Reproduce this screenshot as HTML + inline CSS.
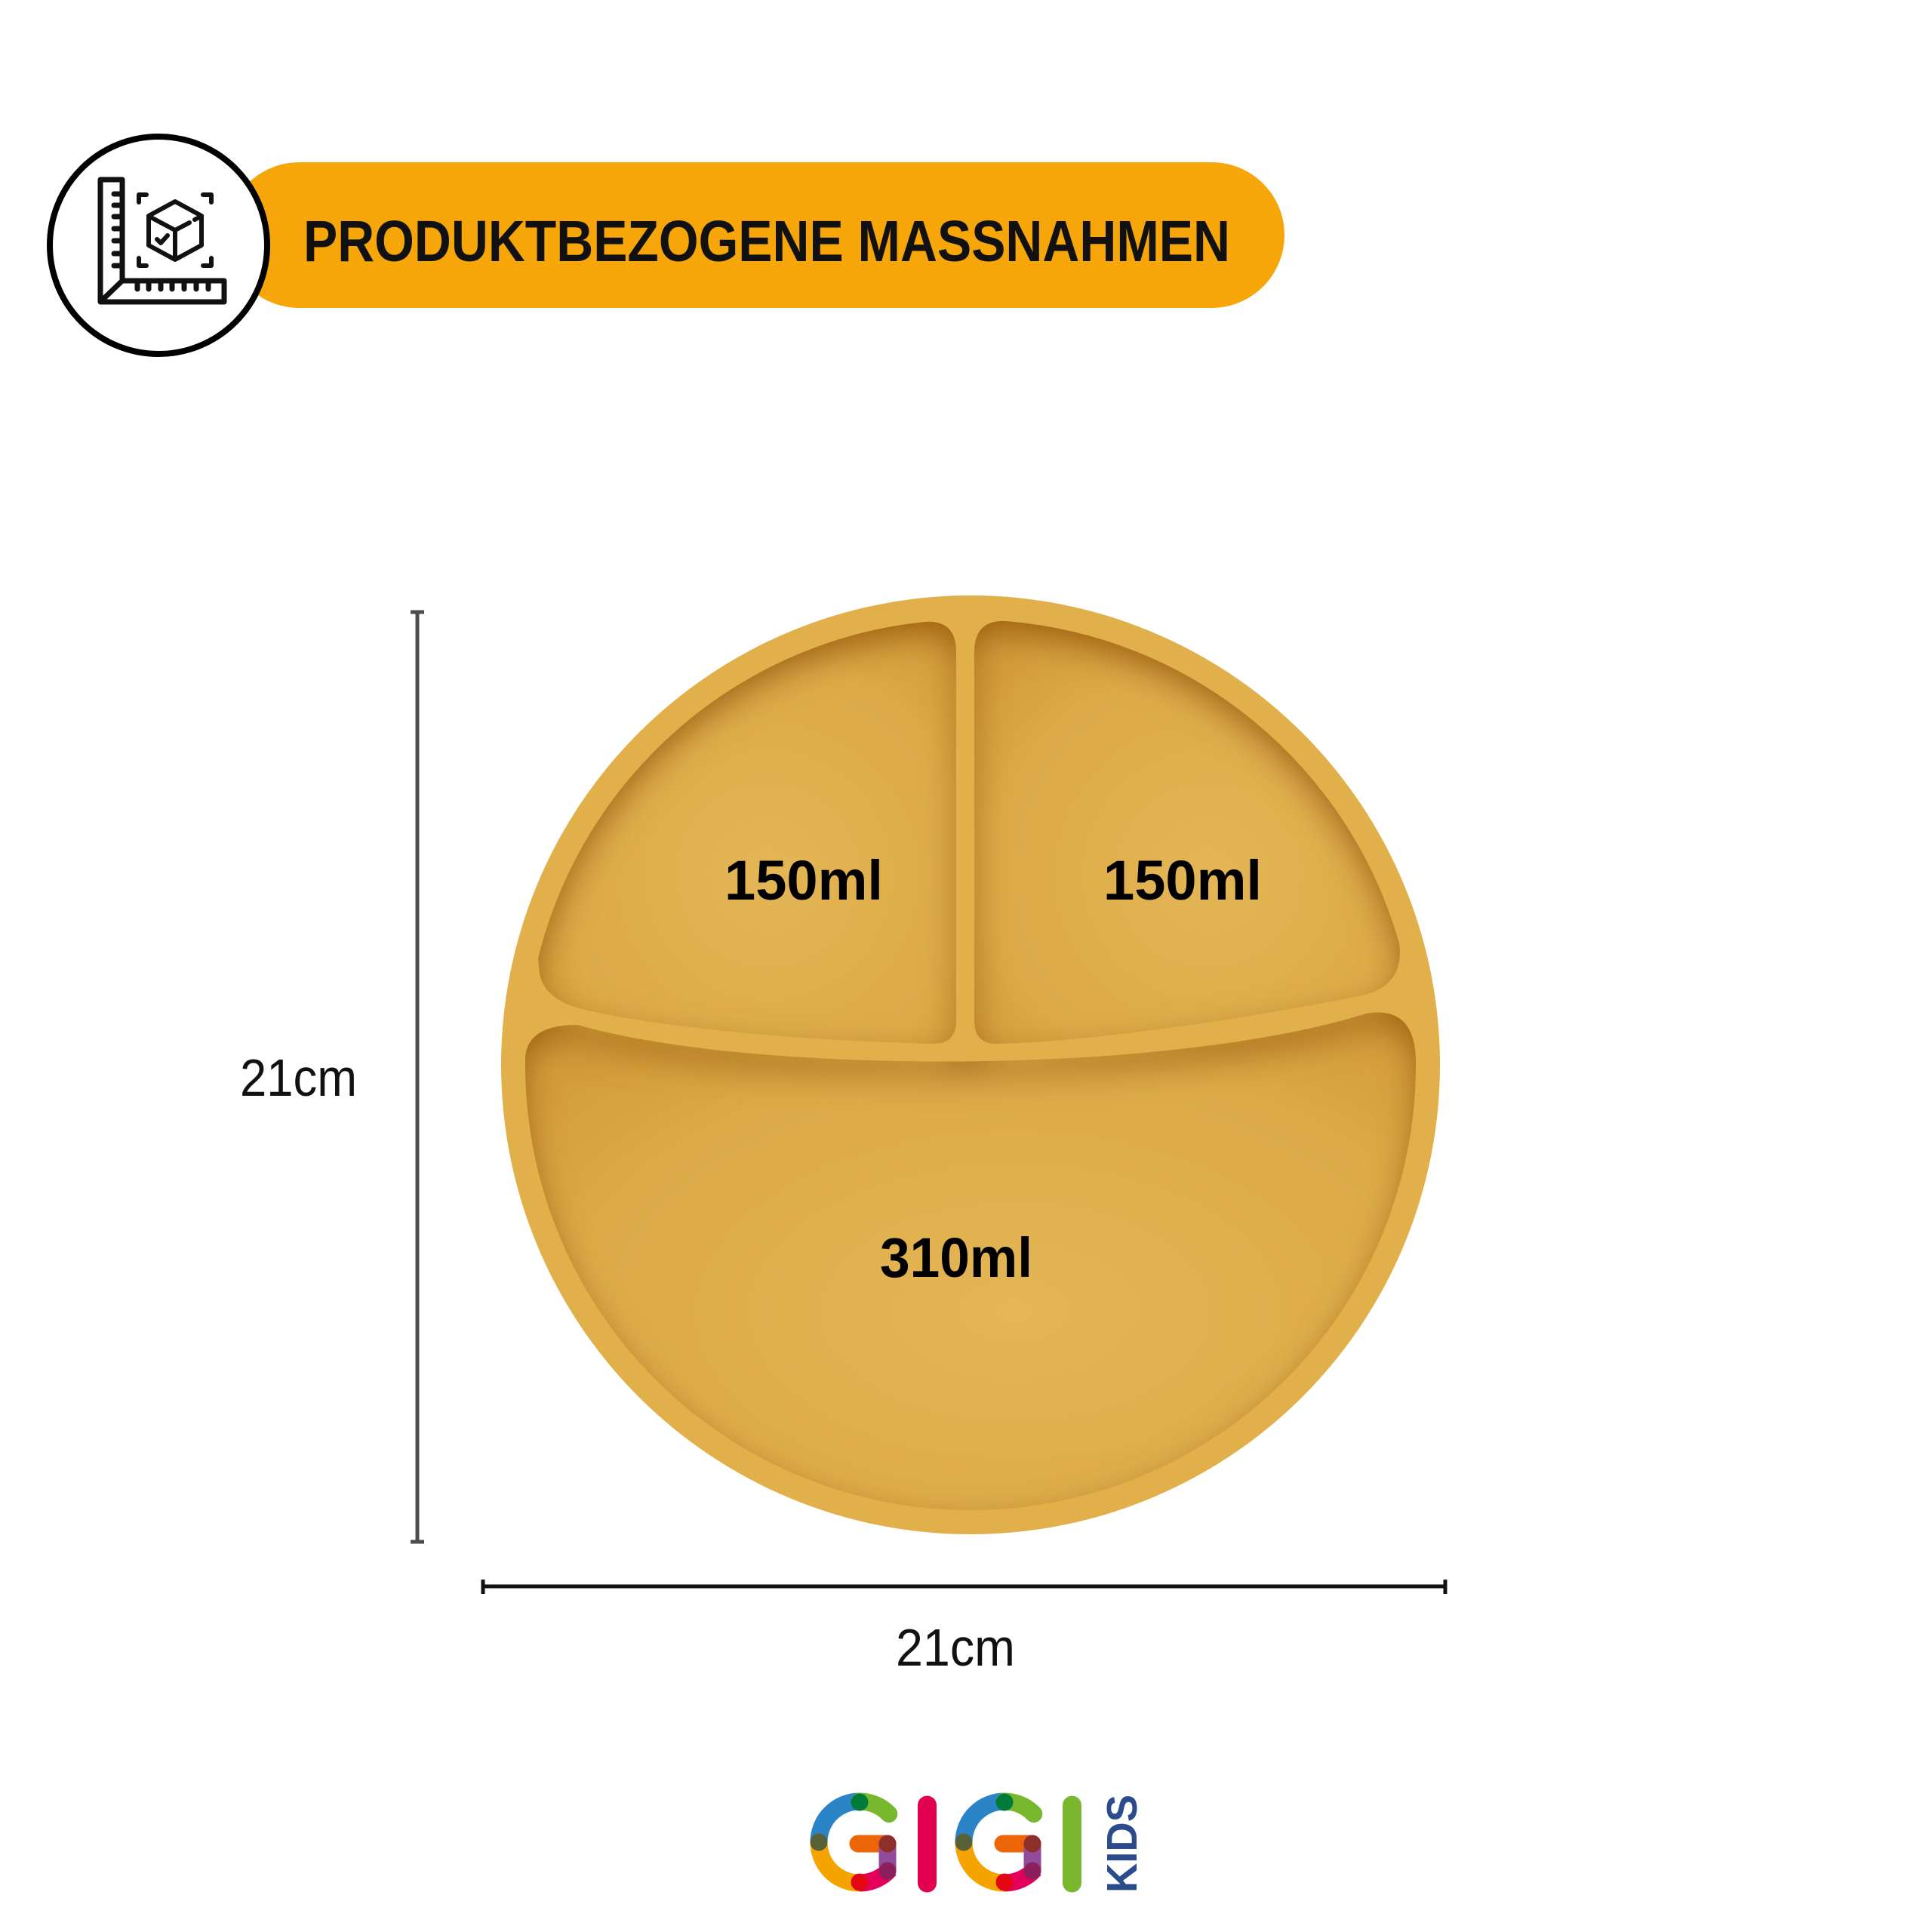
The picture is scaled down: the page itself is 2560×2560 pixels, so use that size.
<!DOCTYPE html>
<html>
<head>
<meta charset="utf-8">
<style>
html,body{margin:0;padding:0;background:#ffffff;}
svg{display:block;}
</style>
</head>
<body>
<svg width="2560" height="2560" viewBox="0 0 2560 2560" xmlns="http://www.w3.org/2000/svg">
  <defs>
    <radialGradient id="comp" cx="0.55" cy="0.6" r="0.7">
      <stop offset="0" stop-color="#E4B655"/>
      <stop offset="0.7" stop-color="#DCAA47"/>
      <stop offset="1" stop-color="#D29C3A"/>
    </radialGradient>
    <filter id="ish" x="-10%" y="-10%" width="120%" height="120%">
      <feFlood flood-color="#9A5806" flood-opacity="0.9" result="f"/>
      <feComposite in="f" in2="SourceAlpha" operator="out" result="o"/>
      <feGaussianBlur in="o" stdDeviation="22" result="b"/>
      <feOffset in="b" dx="0" dy="18" result="bo"/>
      <feComposite in="bo" in2="SourceAlpha" operator="in" result="is"/>
      <feMerge><feMergeNode in="SourceGraphic"/><feMergeNode in="is"/></feMerge>
    </filter>
  </defs>

  <rect x="0" y="0" width="2560" height="2560" fill="#ffffff"/>

  <!-- Header bar -->
  <rect x="300" y="215" width="1402" height="193" rx="96.5" ry="96.5" fill="#F6A609"/>
  <circle cx="210" cy="325" r="144" fill="#ffffff" stroke="#000000" stroke-width="8"/>

  <!-- Icon -->
  <g fill="none" stroke="#111111" stroke-width="7" stroke-linejoin="round" stroke-linecap="round">
    <path d="M133 238 H162 V372 H297 V400 H133 Z"/>
    <path d="M162 372 L135 398"/>
    <path d="M162 257 H151 M162 272 H151 M162 287 H151 M162 303 H151 M162 319 H151 M162 336 H151 M162 352 H151"/>
    <path d="M182 372 V383 M197 372 V383 M213 372 V383 M228 372 V383 M244 372 V383 M260 372 V383 M276 372 V383"/>
  </g>
  <g fill="none" stroke="#111111" stroke-width="6" stroke-linejoin="round" stroke-linecap="round">
    <path d="M184 268 V258 H194"/>
    <path d="M269 258 H280 V268"/>
    <path d="M184 342 V352 H194"/>
    <path d="M269 352 H280 V342"/>
    <path d="M232 267 L267 286 L267 325 L232 344 L197 325 L197 286 Z"/>
    <path d="M200 288 L232 305 L251 295"/>
    <path d="M258 291 L264 288"/>
    <path d="M232 305 V342"/>
    <path d="M208 317 L213 322 L222 312"/>
  </g>

  <text x="402" y="346" font-family="Liberation Sans, sans-serif" font-weight="bold" font-size="77" fill="#111111" textLength="1228" lengthAdjust="spacingAndGlyphs">PRODUKTBEZOGENE MASSNAHMEN</text>

  <!-- Vertical dimension -->
  <g stroke="#4D4D4D" stroke-width="5">
    <line x1="553" y1="811" x2="553" y2="2043"/>
    <line x1="544" y1="811" x2="562" y2="811"/>
    <line x1="544" y1="2043" x2="562" y2="2043"/>
  </g>
  <text x="318" y="1452" font-family="Liberation Sans, sans-serif" font-size="70" fill="#111111" textLength="155" lengthAdjust="spacingAndGlyphs">21cm</text>

  <!-- Horizontal dimension -->
  <g stroke="#111111" stroke-width="5">
    <line x1="640" y1="2102" x2="1915" y2="2102"/>
    <line x1="640" y1="2093" x2="640" y2="2112"/>
    <line x1="1915" y1="2093" x2="1915" y2="2112"/>
  </g>
  <text x="1187" y="2207" font-family="Liberation Sans, sans-serif" font-size="70" fill="#111111" textLength="158" lengthAdjust="spacingAndGlyphs">21cm</text>

  <!-- Plate -->
  <circle cx="1286" cy="1411" r="622" fill="#E1B04B"/>
  <g fill="url(#comp)" filter="url(#ish)">
    <!-- top-left -->
    <path d="M1225 824 Q1267 821 1267 864 L1267 1352 Q1267 1384 1235 1383 C1050 1378 880 1362 775 1338 Q722 1326 715 1290 L713 1270 A590 590 0 0 1 1225 824 Z"/>
    <!-- top-right -->
    <path d="M1291 864 Q1291 821 1333 823 A590 590 0 0 1 1854 1250 Q1862 1308 1800 1320 C1650 1350 1450 1380 1322 1383 Q1291 1384 1291 1352 Z"/>
    <!-- bottom -->
    <path d="M696.1 1400 Q700 1358 765 1358 C1000 1425 1550 1425 1810 1343 Q1872 1332 1875.9 1400 A590 590 0 0 1 1286 2001 A590 590 0 0 1 696.1 1400 Z"/>
  </g>

  <g font-family="Liberation Sans, sans-serif" font-weight="bold" font-size="74" fill="#000000">
    <text x="960" y="1192" textLength="210" lengthAdjust="spacingAndGlyphs">150ml</text>
    <text x="1462" y="1192" textLength="210" lengthAdjust="spacingAndGlyphs">150ml</text>
    <text x="1166" y="1692" textLength="202" lengthAdjust="spacingAndGlyphs">310ml</text>
  </g>

  <!-- Logo GIGI KIDS -->
  <g fill="none" stroke-width="23" stroke-linecap="round">
    <path d="M1085 2441 A54 54 0 0 1 1139 2387" stroke="#2A84C6" stroke-linecap="butt"/>
    <path d="M1139 2387 A54 54 0 0 1 1177.8 2403.5" stroke="#78B82E"/>
    <path d="M1139 2495 A54 54 0 0 1 1085 2441" stroke="#F4A300" stroke-linecap="butt"/>
    <path d="M1179 2477 A54 54 0 0 1 1139 2495" stroke="#E4005A" stroke-linecap="butt"/>
    <line x1="1137" y1="2443" x2="1176" y2="2443" stroke="#EC6608"/>
    <line x1="1176" y1="2443" x2="1176" y2="2478" stroke="#934B9C"/>
  </g>
  <circle cx="1139" cy="2388" r="11.5" fill="#007B3A"/>
  <circle cx="1085" cy="2441" r="11.5" fill="#586035"/>
  <circle cx="1139" cy="2494" r="11.5" fill="#E30613"/>
  <circle cx="1176" cy="2443" r="11.5" fill="#8E2F2A"/>
  <circle cx="1176" cy="2479" r="11.5" fill="#8D1F5C"/>
  <line x1="1228.5" y1="2392" x2="1228.5" y2="2495" stroke="#E2004F" stroke-width="25" stroke-linecap="round"/>

  <g transform="translate(192,0)">
    <g fill="none" stroke-width="23" stroke-linecap="round">
      <path d="M1085 2441 A54 54 0 0 1 1139 2387" stroke="#2A84C6" stroke-linecap="butt"/>
      <path d="M1139 2387 A54 54 0 0 1 1177.8 2403.5" stroke="#78B82E"/>
      <path d="M1139 2495 A54 54 0 0 1 1085 2441" stroke="#F4A300" stroke-linecap="butt"/>
      <path d="M1179 2477 A54 54 0 0 1 1139 2495" stroke="#E4005A" stroke-linecap="butt"/>
      <line x1="1137" y1="2443" x2="1176" y2="2443" stroke="#EC6608"/>
      <line x1="1176" y1="2443" x2="1176" y2="2478" stroke="#934B9C"/>
    </g>
    <circle cx="1139" cy="2388" r="11.5" fill="#007B3A"/>
    <circle cx="1085" cy="2441" r="11.5" fill="#586035"/>
    <circle cx="1139" cy="2494" r="11.5" fill="#E30613"/>
    <circle cx="1176" cy="2443" r="11.5" fill="#8E2F2A"/>
    <circle cx="1176" cy="2479" r="11.5" fill="#8D1F5C"/>
  </g>
  <line x1="1420.5" y1="2392" x2="1420.5" y2="2495" stroke="#7AB72F" stroke-width="25" stroke-linecap="round"/>

  <text transform="translate(1506,2508) rotate(-90)" font-family="Liberation Sans, sans-serif" font-weight="bold" font-size="57" fill="#2B4C8C" textLength="130" lengthAdjust="spacingAndGlyphs">KIDS</text>
</svg>
</body>
</html>
